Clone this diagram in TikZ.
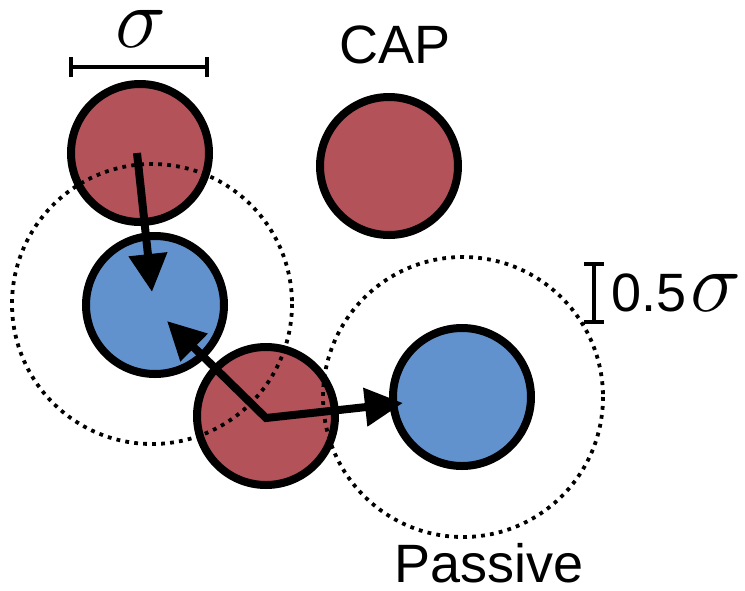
\RequirePackage{fix-cm}
\documentclass[tikz,border=0pt]{standalone}
\usepackage{fontspec}
\setmainfont{Liberation Sans}
\usetikzlibrary{arrows.meta}

\definecolor{capred}{RGB}{179,82,89}
\definecolor{passblue}{RGB}{98,146,205}

\tikzset{
  particle/.style={circle, draw=black, line width=8pt, inner sep=0pt,
                   minimum size=138pt},
  capparticle/.style={particle, fill=capred},
  passparticle/.style={particle, fill=passblue},
  rangering/.style={line width=3.8pt, dash pattern=on 3.8pt off 5.2pt},
  headtip/.tip={Triangle[length=38pt,width=37pt]},
  move/.style={line width=8pt, line join=miter},
  bigtext/.style={inner sep=0pt, font=\fontsize{54}{60}\selectfont},
  scalebar/.style={line width=4pt},
}

\newcommand{\bigsig}{{\fontsize{86}{90}\selectfont$\sigma$}}

\begin{document}
\begin{tikzpicture}[x=1pt, y=-1pt]
  \useasboundingbox (0,0) rectangle (745,590);

  % particles
  \node[capparticle]  (r1) at (140,153) {};
  \node[capparticle]  (r2) at (389,166) {};
  \node[passparticle] (b1) at (155,305) {};
  \node[capparticle]  (r3) at (266,416) {};
  \node[passparticle] (b2) at (462,397) {};

  % interaction ranges
  \coordinate (c1) at (152,304);
  \coordinate (c2) at (463,397);
  \draw[rangering] (c1) circle[radius=140];
  \draw[rangering] (c2) circle[radius=140];

  % displacements
  \coordinate (s1) at (137,153);
  \coordinate (t1) at (152,292);
  \coordinate (s2) at (266,418);
  \coordinate (t2) at (167,321);
  \coordinate (t3) at (403,403);
  \draw[move, -headtip] (s1) -- (t1);
  \draw[move, headtip-headtip] (t2) -- (s2) -- (t3);

  % sigma scale bar
  \coordinate (sa) at (71,67);
  \coordinate (sb) at (207,67);
  \draw[scalebar] (sa) -- (sb);
  \draw[scalebar] ([yshift=-10]sa) -- ([yshift=10]sa);
  \draw[scalebar] ([yshift=-10]sb) -- ([yshift=10]sb);
  \node[inner sep=0pt, anchor=base] (sig) at (141,47) {\bigsig};

  % half-sigma bar
  \coordinate (ha) at (594,264);
  \coordinate (hb) at (594,322);
  \draw[scalebar] (ha) -- (hb);
  \draw[line width=3.5pt] ([xshift=-10]ha) -- ([xshift=10]ha);
  \draw[line width=3.5pt] ([xshift=-10]hb) -- ([xshift=10]hb);
  \node[bigtext, anchor=base west] (half) at (611,311) {0.5\kern4pt\bigsig};

  % labels
  \node[bigtext, anchor=base] (caplab) at (395,63) {CAP};
  \node[bigtext, anchor=base] (passlab) at (489,582) {Passive};
\end{tikzpicture}
\end{document}
